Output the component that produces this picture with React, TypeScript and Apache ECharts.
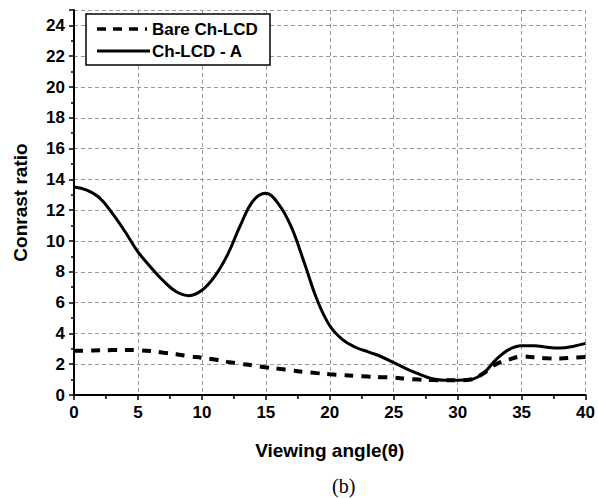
import React, { useEffect, useRef } from "react";
import * as echarts from "echarts";

const angles = [0,1,2,3,4,5,6,7,8,9,10,11,12,13,14,15,16,17,18,19,20,21,22,23,24,25,26,27,28,29,30,31,32,33,34,35,36,37,38,39,40];
const chLcdA = [13.5,13.3,12.8,11.8,10.6,9.3,8.3,7.4,6.7,6.45,6.8,7.7,9.1,11.0,12.6,13.1,12.4,10.9,8.6,6.2,4.5,3.6,3.1,2.8,2.5,2.1,1.7,1.35,1.05,0.95,0.95,1.0,1.4,2.3,2.95,3.2,3.2,3.1,3.05,3.15,3.35];
const bareChLcd = [2.87,2.88,2.9,2.92,2.93,2.91,2.85,2.75,2.65,2.52,2.42,2.3,2.15,2.03,1.92,1.8,1.7,1.6,1.5,1.42,1.35,1.29,1.25,1.2,1.16,1.13,1.05,1.0,0.97,0.95,0.95,1.0,1.4,2.0,2.3,2.5,2.45,2.38,2.37,2.42,2.46];
const seriesNames = ["Bare Ch-LCD", "Ch-LCD - A"];
const xTitle = "Viewing angle(\u03b8)";
const yTitle = "Conrast ratio";
const caption = "(b)";

export default function App() {
  const ref = useRef<HTMLDivElement>(null);
  useEffect(() => {
    const chart = echarts.init(ref.current!, null, { renderer: "svg" });
    const font = "'Liberation Sans', Arial, sans-serif";
    const legendFont = "bold 17px 'Liberation Sans', Arial, sans-serif";
    chart.setOption({
      animation: false,
      backgroundColor: "#fff",
      grid: { left: 74, right: 10, top: 10, bottom: 103 },
      xAxis: {
        type: "value",
        min: 0,
        max: 40,
        interval: 5,
        name: xTitle,
        nameLocation: "middle",
        nameGap: 46,
        nameTextStyle: { fontFamily: font, fontWeight: "bold", fontSize: 19, color: "#000" },
        axisLine: { lineStyle: { color: "#000", width: 2 } },
        axisTick: { show: true, length: 5, lineStyle: { color: "#000", width: 1.5 } },
        minorTick: { show: true, splitNumber: 2, length: 4, lineStyle: { color: "#000", width: 1.5 } },
        axisLabel: { fontFamily: font, fontWeight: "bold", fontSize: 17, color: "#000", margin: 9 },
        splitLine: { show: true, lineStyle: { color: "#999", type: [4, 3], width: 1 } },
      },
      yAxis: {
        type: "value",
        min: 0,
        max: 25,
        interval: 2,
        name: yTitle,
        nameLocation: "middle",
        nameGap: 44,
        nameTextStyle: { fontFamily: font, fontWeight: "bold", fontSize: 19, color: "#000" },
        axisLine: { show: true, lineStyle: { color: "#000", width: 2 } },
        axisTick: { show: true, length: 5, lineStyle: { color: "#000", width: 1.5 } },
        minorTick: { show: true, splitNumber: 2, length: 3, lineStyle: { color: "#000", width: 1.5 } },
        axisLabel: {
          fontFamily: font, fontWeight: "bold", fontSize: 17, color: "#000", margin: 9,
          showMaxLabel: false,
          formatter: (v: number) => (v % 2 === 0 ? String(v) : ""),
        },
        splitLine: { show: true, lineStyle: { color: "#999", type: [4, 3], width: 1 } },
      },
      series: [
        {
          name: seriesNames[0],
          type: "line",
          smooth: 0.4,
          symbol: "none",
          data: angles.map((a, i) => [a, bareChLcd[i]]),
          lineStyle: { color: "#000", width: 4, type: [9, 8] },
          itemStyle: { color: "#000" },
          z: 3,
        },
        {
          name: seriesNames[1],
          type: "line",
          smooth: 0.4,
          symbol: "none",
          data: angles.map((a, i) => [a, chLcdA[i]]),
          lineStyle: { color: "#000", width: 3, type: "solid" },
          itemStyle: { color: "#000" },
          z: 4,
        },
      ],
      graphic: [
        {
          type: "rect",
          shape: { x: 86, y: 14, width: 184, height: 51 },
          style: { fill: "#fff", stroke: "#000", lineWidth: 1.5 },
          z: 100,
        },
        {
          type: "line",
          shape: { x1: 97, y1: 29, x2: 147, y2: 29 },
          style: { stroke: "#000", lineWidth: 3.5, lineDash: [9, 7] },
          z: 101,
        },
        {
          type: "line",
          shape: { x1: 97, y1: 51, x2: 150, y2: 51 },
          style: { stroke: "#000", lineWidth: 3 },
          z: 101,
        },
        {
          type: "text",
          x: 152,
          y: 29,
          style: { text: seriesNames[0], font: legendFont, fill: "#000", verticalAlign: "middle" },
          z: 101,
        },
        {
          type: "text",
          x: 152,
          y: 51,
          style: { text: seriesNames[1], font: legendFont, fill: "#000", verticalAlign: "middle" },
          z: 101,
        },
        {
          type: "text",
          left: 332,
          top: 476,
          style: { text: caption, font: "20px 'Liberation Serif', 'Times New Roman', serif", fill: "#000" },
        },
      ],
    });
    return () => chart.dispose();
  }, []);
  return <div ref={ref} style={{ position: "fixed", left: 0, top: 0, width: 598, height: 498 }} />;
}
